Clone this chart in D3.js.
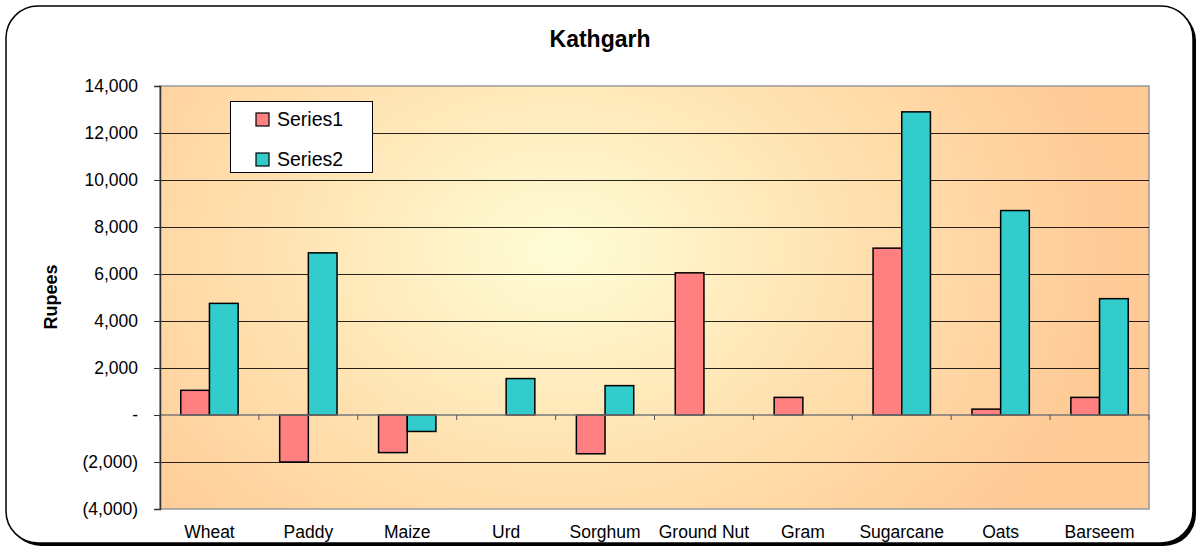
<!DOCTYPE html>
<html><head><meta charset="utf-8">
<script src="https://cdn.jsdelivr.net/npm/d3@7"></script>
<style>body{margin:0;background:#fff;}svg{display:block;font-family:"Liberation Sans",Arial,sans-serif;}</style>
</head><body>
<svg id="c" width="1202" height="548"></svg>
<script>
const categories = ["Wheat","Paddy","Maize","Urd","Sorghum","Ground Nut","Gram","Sugarcane","Oats","Barseem"];
const series1 = [1050,-2000,-1600,0,-1650,6050,750,7100,250,750];
const series2 = [4750,6900,-700,1550,1250,0,0,12900,8700,4950];
const seriesNames = ["Series1","Series2"];
const colors = ["#FF8080","#33CCCC"];
const yTicks = [-4000,-2000,0,2000,4000,6000,8000,10000,12000,14000];

const svg = d3.select("#c");
const L=160,R=1149,T=86,B=509;

// outer frame with shadow
svg.append("rect").attr("x",9).attr("y",9).attr("width",1187).attr("height",537).attr("rx",32).attr("fill","#000");
svg.append("rect").attr("x",6).attr("y",6).attr("width",1187).attr("height",537).attr("rx",32).attr("fill","#fff").attr("stroke","#000").attr("stroke-width",1.5);

const defs = svg.append("defs");
const g = defs.append("radialGradient").attr("id","bg").attr("gradientUnits","userSpaceOnUse")
  .attr("cx",560).attr("cy",250).attr("r",560).attr("gradientTransform","translate(560,250) scale(1,0.75) translate(-560,-250)");
g.append("stop").attr("offset","0").attr("stop-color","#FFFDD6");
g.append("stop").attr("offset","0.55").attr("stop-color","#FFE0AE");
g.append("stop").attr("offset","1").attr("stop-color","#FFCA96");

svg.append("rect").attr("x",L).attr("y",T).attr("width",R-L).attr("height",B-T).attr("fill","url(#bg)").attr("stroke","#999").attr("stroke-width",1.5);

const y = d3.scaleLinear().domain([-4000,14000]).range([B,T]);
const x0 = d3.scaleBand().domain(categories).range([L,R]).paddingInner(0.42).paddingOuter(0.21);
const x1 = d3.scaleBand().domain(seriesNames).range([0,x0.bandwidth()]);

// gridlines
svg.append("g").selectAll("line").data(yTicks.filter(v=>v!==0 && v!==14000 && v!==-4000)).join("line")
  .attr("x1",L).attr("x2",R).attr("y1",d=>Math.round(y(d))+0.5).attr("y2",d=>Math.round(y(d))+0.5)
  .attr("stroke","#000").attr("stroke-opacity",0.85).attr("stroke-width",1);

// bars
const data = categories.map((c,i)=>({c, vals:[series1[i],series2[i]]}));
const grp = svg.append("g").selectAll("g").data(data).join("g").attr("transform",d=>`translate(${x0(d.c)},0)`);
grp.selectAll("rect").data(d=>d.vals.map((v,j)=>({v,j}))).join("rect")
  .filter(d=>d.v!==0)
  .attr("x",d=>x1(seriesNames[d.j])).attr("width",x1.bandwidth())
  .attr("y",d=>y(Math.max(0,d.v))).attr("height",d=>Math.abs(y(d.v)-y(0)))
  .attr("fill",d=>colors[d.j]).attr("stroke","#000").attr("stroke-width",1.5);

// x axis at zero
const xAxisG = svg.append("g");
xAxisG.append("line").attr("x1",L).attr("x2",R).attr("y1",y(0)).attr("y2",y(0)).attr("stroke","#777").attr("stroke-width",1.5);
const step = x0.step();
xAxisG.selectAll("line.t").data(d3.range(categories.length+1)).join("line").attr("class","t")
  .attr("x1",i=>L+i*step).attr("x2",i=>L+i*step).attr("y1",y(0)).attr("y2",y(0)+5).attr("stroke","#555").attr("stroke-width",1);

// x labels
svg.append("g").selectAll("text").data(categories).join("text")
  .attr("x",d=>x0(d)+x0.bandwidth()/2).attr("y",538).attr("text-anchor","middle")
  .attr("font-size",17.5).attr("fill","#000").text(d=>d);

// y axis
const fmt = v=> v===0 ? "-" : (v<0 ? "("+d3.format(",")(-v)+")" : d3.format(",")(v));
const yAxis = d3.axisLeft(y).tickValues(yTicks).tickSize(6).tickFormat(fmt);
const ya = svg.append("g").attr("transform",`translate(${L},0)`).call(yAxis);
ya.select(".domain").attr("stroke","#333").attr("stroke-width",1.5);
ya.selectAll(".tick line").attr("stroke","#333");
ya.selectAll(".tick text").attr("font-size",17.5).attr("fill","#000").attr("x",-22).attr("dy","0.34em").attr("font-family","Liberation Sans, Arial, sans-serif");

// title
svg.append("text").attr("x",600).attr("y",47).attr("text-anchor","middle").attr("font-size",23).attr("font-weight","bold").text("Kathgarh");
// y label
svg.append("text").attr("transform","translate(57,297) rotate(-90)").attr("text-anchor","middle").attr("font-size",18).attr("font-weight","bold").text("Rupees");

// legend
const lg = svg.append("g");
lg.append("rect").attr("x",230.5).attr("y",101.5).attr("width",142).attr("height",71).attr("fill","#fff").attr("stroke","#000").attr("stroke-width",1);
seriesNames.forEach((s,i)=>{
  lg.append("rect").attr("x",256).attr("y",113+i*40).attr("width",13).attr("height",13).attr("fill",colors[i]).attr("stroke","#000").attr("stroke-width",1.2);
  lg.append("text").attr("x",277).attr("y",126+i*40).attr("font-size",19.5).text(s);
});
</script>
</body></html>
